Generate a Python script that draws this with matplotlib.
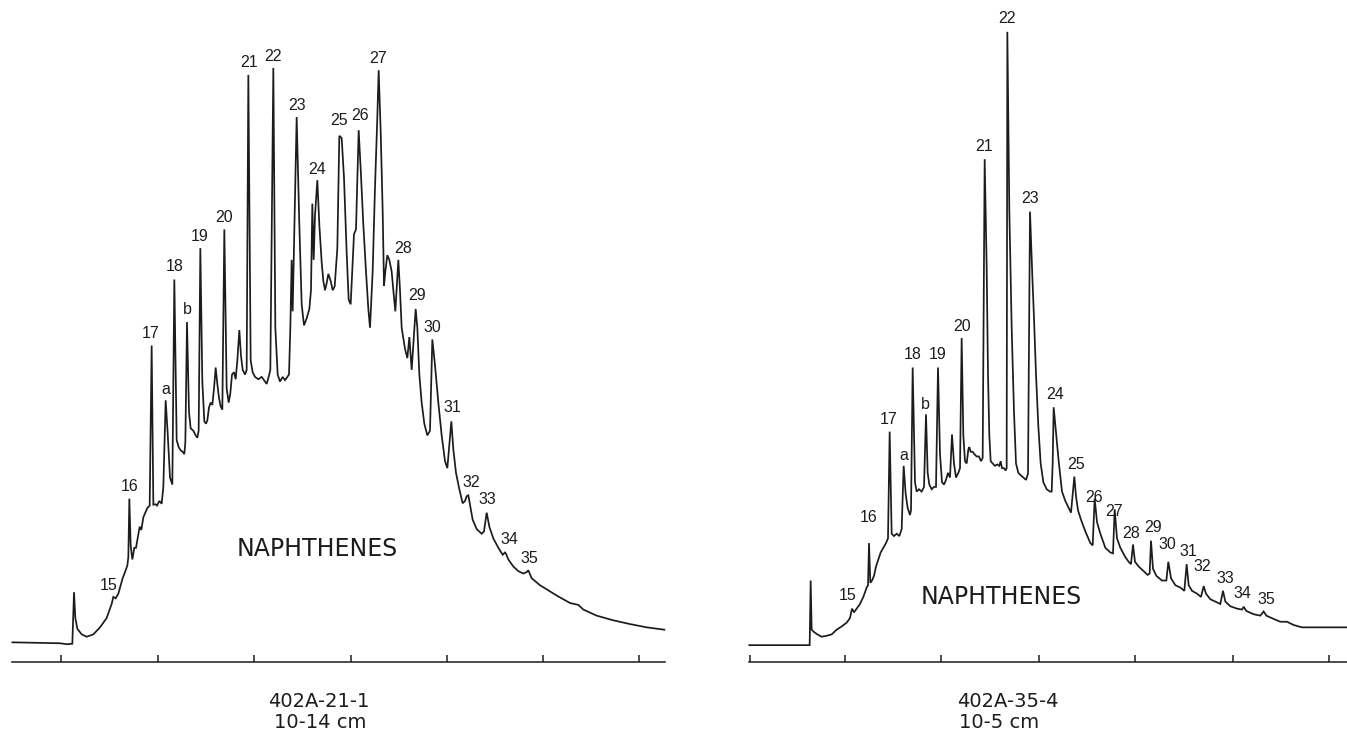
import matplotlib
matplotlib.use("Agg")
import matplotlib.pyplot as plt

# ---------------- data: left chromatogram (402A-21-1, 10-14 cm) ----------------
left_time = [37, 180, 200, 217, 222, 226, 232, 245, 260, 280, 300, 320, 335, 340, 347, 355, 362, 368, 375, 382,
             385, 388, 392, 397, 403, 408, 414, 419, 424, 430, 436, 442, 449, 455, 460, 466, 471, 478, 485, 490,
             497, 503, 510, 517, 523, 530, 536, 542, 548, 553, 556, 561, 567, 572, 580, 587, 592, 596, 601, 607,
             613, 618, 622, 627, 632, 637, 642, 647, 652, 657, 662, 667, 673, 680, 686, 691, 696, 702, 707, 712,
             718, 723, 728, 735, 740, 745, 752, 758, 765, 775, 785, 795, 800, 806, 811, 820, 826, 833, 840, 848,
             855, 862, 867, 871, 875, 878, 881, 890, 898, 905, 912, 920, 928, 933, 937, 941, 945, 952, 958, 965,
             970, 975, 980, 985, 992, 998, 1004, 1012, 1018, 1025, 1032, 1040, 1046, 1052, 1058, 1062, 1068, 1076, 1082, 1090,
             1098, 1105, 1110, 1118, 1125, 1132, 1136, 1142, 1148, 1152, 1156, 1162, 1168, 1175, 1180, 1186, 1195, 1200, 1205, 1215,
             1222, 1228, 1235, 1247, 1252, 1258, 1265, 1273, 1282, 1290, 1297, 1305, 1315, 1325, 1335, 1342, 1348, 1354, 1360, 1368,
             1378, 1388, 1395, 1400, 1405, 1410, 1418, 1430, 1445, 1452, 1460, 1468, 1480, 1495, 1508, 1515, 1518, 1525, 1540, 1555,
             1570, 1580, 1585, 1595, 1620, 1670, 1710, 1735, 1750, 1790, 1840, 1890, 1940, 1993]
left_signal = [43, 41, 39, 40, 150, 95, 72, 60, 55, 60, 75, 95, 125, 140, 137, 147, 165, 180, 193, 207,
               225, 350, 250, 220, 245, 245, 270, 290, 283, 310, 320, 330, 335, 677, 337, 338, 335, 345, 339, 375,
               560, 490, 395, 380, 818, 475, 460, 453, 450, 445, 470, 727, 535, 500, 495, 485, 480, 495, 885, 600,
               515, 510, 517, 545, 555, 550, 585, 630, 595, 565, 547, 540, 925, 585, 555, 575, 615, 620, 605, 645,
               710, 655, 625, 615, 625, 1255, 645, 620, 610, 605, 610, 600, 595, 610, 625, 1270, 715, 615, 600, 610,
               603, 610, 615, 715, 860, 750, 855, 1165, 935, 765, 720, 735, 755, 795, 980, 860, 955, 1030, 935, 855,
               815, 795, 810, 830, 815, 795, 803, 885, 1125, 1120, 1035, 875, 775, 765, 855, 915, 925, 1137, 1055, 935,
               835, 755, 715, 835, 1015, 1165, 1265, 1135, 965, 805, 835, 870, 860, 835, 795, 750, 860, 795, 715, 670,
               650, 695, 625, 755, 715, 615, 555, 510, 485, 495, 690, 635, 555, 485, 430, 415, 465, 515, 455, 405,
               370, 340, 345, 355, 357, 337, 305, 285, 275, 280, 320, 290, 265, 245, 230, 235, 232, 220, 205, 195,
               190, 193, 197, 180, 165, 143, 127, 123, 113, 100, 90, 82, 75, 70]
left_ticks = [183, 473, 763, 1053, 1340, 1628, 1918]
left_axis_span = [37, 1995]
left_peak_names = ["15", "16", "17", "a", "18", "b", "19", "20", "21", "22", "23", "24",
                   "25", "26", "27", "28", "29", "30", "31", "32", "33", "34", "35"]
left_label_x = [325, 388, 452, 496, 523, 562, 598, 673, 748, 820, 892, 952,
                1017, 1080, 1135, 1208, 1250, 1298, 1358, 1415, 1462, 1528, 1587]
left_label_y = [165, 375, 703, 583, 845, 753, 910, 950, 1282, 1295, 1190, 1053,
                1157, 1168, 1290, 885, 783, 715, 545, 385, 349, 263, 223]

# ---------------- data: right chromatogram (402A-35-4, 10-5 cm) ----------------
right_time = [28, 207, 209, 212, 215, 222, 232, 245, 260, 275, 290, 305, 320, 330, 336, 342, 350, 360, 370, 380,
              384, 387, 391, 396, 402, 408, 415, 422, 430, 438, 444, 449, 455, 462, 470, 478, 485, 491, 497, 503,
              510, 513, 518, 525, 530, 537, 545, 552, 558, 563, 568, 575, 582, 588, 594, 600, 606, 612, 618, 624,
              630, 636, 642, 648, 655, 660, 665, 670, 675, 680, 685, 688, 692, 698, 703, 710, 717, 723, 728, 734,
              740, 744, 748, 752, 758, 765, 772, 778, 782, 786, 792, 797, 800, 802, 808, 815, 822, 828, 835, 842,
              850, 858, 864, 870, 877, 882, 888, 895, 902, 910, 920, 930, 935, 938, 941, 949, 956, 966, 976, 986,
              993, 1003, 1008, 1014, 1023, 1036, 1051, 1058, 1064, 1071, 1081, 1096, 1111, 1119, 1124, 1131, 1141, 1156, 1166, 1173,
              1179, 1185, 1196, 1211, 1223, 1229, 1233, 1239, 1249, 1266, 1279, 1285, 1293, 1306, 1321, 1333, 1340, 1346, 1356, 1371,
              1383, 1391, 1398, 1411, 1426, 1441, 1449, 1456, 1471, 1491, 1506, 1511, 1519, 1541, 1561, 1571, 1579, 1601, 1621, 1641,
              1661, 1686, 1701, 1821]
right_signal = [37, 37, 37, 175, 70, 65, 60, 55, 57, 60, 70, 77, 85, 95, 115, 107, 115, 125, 140, 160,
                165, 255, 170, 175, 185, 205, 220, 235, 245, 255, 265, 493, 275, 270, 275, 270, 285, 420, 360, 330,
                315, 325, 630, 385, 365, 370, 365, 375, 530, 405, 380, 370, 375, 375, 630, 445, 385, 380, 390, 405,
                395, 487, 425, 395, 405, 415, 693, 485, 430, 425, 455, 460, 450, 450, 445, 440, 440, 430, 437, 1075,
                845, 615, 485, 430, 425, 420, 423, 420, 430, 415, 415, 410, 415, 1347, 965, 715, 535, 425, 405, 400,
                395, 390, 403, 963, 825, 735, 615, 505, 425, 385, 370, 365, 365, 425, 545, 485, 430, 365, 345, 330,
                320, 397, 355, 325, 305, 280, 255, 250, 350, 300, 275, 245, 235, 233, 327, 265, 245, 225, 215, 210,
                252, 215, 205, 195, 187, 190, 260, 200, 185, 175, 175, 215, 180, 165, 160, 153, 210, 165, 153, 147,
                140, 163, 147, 135, 130, 125, 153, 130, 120, 115, 113, 119, 110, 103, 100, 109, 100, 93, 87, 87,
                80, 75, 75, 75]
right_ticks = [30, 316, 604, 897, 1186, 1478, 1766]
right_axis_span = [28, 1821]
right_peak_names = ["15", "16", "17", "a", "18", "b", "19", "20", "21", "22", "23", "24",
                    "25", "26", "27", "28", "29", "30", "31", "32", "33", "34", "35"]
right_label_x = [322, 385, 446, 491, 517, 556, 593, 665, 733, 802, 870, 944,
                 1007, 1063, 1123, 1174, 1238, 1281, 1346, 1388, 1456, 1506, 1578]
right_label_y = [143, 310, 520, 443, 657, 550, 658, 718, 1102, 1375, 990, 572,
                 422, 353, 322, 275, 288, 253, 237, 205, 180, 147, 135]

# ---------------- figure ----------------
W, H, DPI = 1347, 734, 100
fig = plt.figure(figsize=(W / DPI, H / DPI), dpi=DPI, facecolor="white")
INK = "#1c1c1c"
YLIM = (-152.8, 1415)

ax_l = fig.add_axes([0, 0, 673.5 / W, 1])
ax_r = fig.add_axes([673.5 / W, 0, 673.5 / W, 1])
ax_l.set_xlim(0, 2020.5)
ax_r.set_xlim(-199.5, 1821)

panels = [
    (ax_l, left_time, left_signal, left_ticks, left_axis_span, left_peak_names, left_label_x, left_label_y,
     (951, 243), (956, -84), "402A-21-1", (962, -128), "10-14 cm"),
    (ax_r, right_time, right_signal, right_ticks, right_axis_span, right_peak_names, right_label_x, right_label_y,
     (783, 140), (804, -84), "402A-35-4", (778, -128), "10-5 cm"),
]

for (ax, t, s, ticks, span, names, lx, ly, naph_pos, s1_pos, s1, s2_pos, s2) in panels:
    ax.set_ylim(*YLIM)
    ax.axis("off")
    ax.plot(t, s, color=INK, lw=1.25, solid_joinstyle="miter")
    ax.plot(span, [0, 0], color=INK, lw=1.1)
    ax.vlines(ticks, 0, 15, color=INK, lw=1.1)
    for name, x, y in zip(names, lx, ly):
        ax.text(x, y, name, ha="center", va="center", fontsize=11.5,
                family="Liberation Sans", color=INK)
    ax.text(*naph_pos, "NAPHTHENES", ha="center", va="center", fontsize=17,
            family="DejaVu Sans", color=INK)
    ax.text(*s1_pos, s1, ha="center", va="center", fontsize=14, family="DejaVu Sans", color=INK)
    ax.text(*s2_pos, s2, ha="center", va="center", fontsize=14, family="DejaVu Sans", color=INK)

fig.savefig("out.png", dpi=DPI, facecolor="white")
